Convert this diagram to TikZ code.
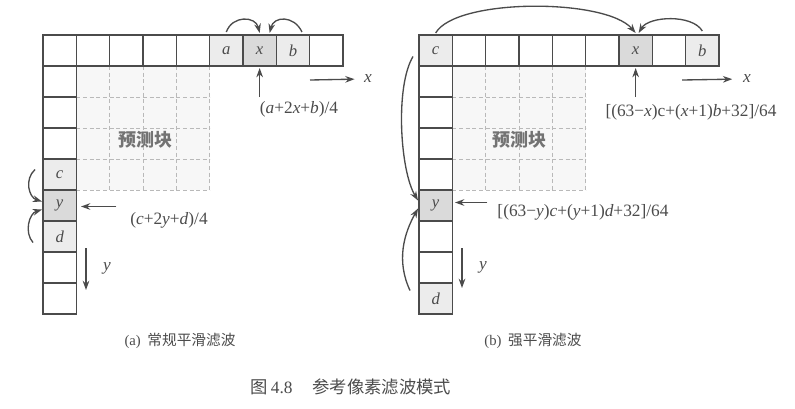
\documentclass[tikz,border=0pt]{standalone}
\usepackage{fontspec}
\setmainfont{Liberation Serif}
\newfontfamily\cjk{Noto Sans CJK SC}
\usetikzlibrary{arrows.meta, positioning, calc}
\definecolor{cellLight}{RGB}{236,236,236}
\definecolor{cellDark}{RGB}{218,218,218}
\definecolor{gridLine}{RGB}{185,185,185}
\definecolor{inkGray}{RGB}{75,75,75}

\begin{document}
\begin{tikzpicture}[
    x=0.75pt, y=-0.75pt,
    cell/.style={draw=inkGray, line width=1.2pt, minimum width=25pt, minimum height=23.25pt,
                 inner sep=0pt, outer sep=0pt, text=inkGray, font=\itshape\fontsize{12.5}{12}\selectfont},
    lit/.style={cell, fill=cellLight},
    hit/.style={cell, fill=cellDark},
    arr/.style={draw=inkGray, line width=1pt, -{Stealth[length=7pt, width=5pt]}},
    lbl/.style={text=inkGray, inner sep=1pt, font=\fontsize{13}{14}\selectfont},
    captxt/.style={text=inkGray, inner sep=1pt, font=\fontsize{11}{13}\selectfont},
    blk/.style={text=black!55, inner sep=1pt, font=\cjk\bfseries\fontsize{13.5}{14}\selectfont}
  ]
    \useasboundingbox (0,0) rectangle (795,408);

    \newcommand{\refgrid}[2]{%
      % prediction block
      \fill[black!3] (#2+33.33,66) rectangle (#2+166.67,190);
      \foreach \k in {1,...,4} {
        \draw[gridLine, densely dashed] (#2+33.33+33.33*\k,66) -- (#2+33.33+33.33*\k,190);
        \draw[gridLine, densely dashed] (#2+33.33,66+31*\k) -- (#2+166.67,66+31*\k);
      }
      % reference row and column
      \foreach \i in {0,...,8}
        \node[cell] (#1t\i) at (#2+16.67+33.33*\i,50.5) {};
      \foreach \j in {1,...,8}
        \node[cell] (#1l\j) at (#2+16.67,50.5+31*\j) {};
    }

    \refgrid{a}{43}
    \refgrid{b}{419}

    % (a) regular smoothing
    \node[lit] (ca) at (at5) {a};
    \node[hit] (cx) at (at6) {x};
    \node[lit] (cb) at (at7) {b};
    \node[lit] (cc) at (al4) {c};
    \node[hit] (cy) at (al5) {y};
    \node[lit] (cd) at (al6) {d};
    \node[blk] (pa) at (145,140) {预测块};

    \draw[arr] ($(ca.north)+(0,-3)$) .. controls +(6,-17) and +(-4,-17) .. ($(cx.north)+(0,-2)$);
    \draw[arr] ($(cb.north)+(9,-3)$) .. controls +(-8,-17) and +(4,-17) .. ($(cx.north)+(10,-2)$);
    \node[lbl] (fa) at (299,109) {(\textit{a}+2\textit{x}+\textit{b})/4};
    \coordinate (xa0) at ($(cx.south)+(0,31)$);
    \draw[arr, shorten >=1.5pt] (xa0) -- (cx.south);
    \coordinate (ra0) at (310,80);
    \node[lbl] (xa) at (368,79) {\textit{x}};
    \draw[arr, shorten >=6pt] (ra0) -- (xa.west);

    \draw[arr] ($(cc.west)+(-8,-5)$) .. controls +(-11,10) and +(-13,-4) .. ($(cy.west)+(-1,-4)$);
    \draw[arr] ($(cd.west)+(-10,6)$) .. controls +(-9,-10) and +(-13,4) .. ($(cy.west)+(-1,4)$);
    \node[lbl] (fy) at (169,220) {(\textit{c}+2\textit{y}+\textit{d})/4};
    \coordinate (ya0) at ($(cy.east)+(40,1)$);
    \draw[arr, shorten >=3.5pt] (ya0) -- (ya0 -| cy.east);
    \coordinate (da0) at (86,248);
    \coordinate (da1) at (86,290);
    \draw[arr] (da0) -- (da1);
    \node[lbl] (ya) at (107,268) {\textit{y}};

    % (b) strong smoothing
    \node[lit] (bc) at (bt0) {c};
    \node[hit] (bx) at (bt6) {x};
    \node[lit] (bb) at (bt8) {b};
    \node[hit] (by) at (bl5) {y};
    \node[lit] (bd) at (bl8) {d};
    \node[blk] (pb) at (519,140) {预测块};

    \draw[arr] ($(bc.north)+(0,-2)$) .. controls +(20,-35) and +(-30,-35) .. ($(bx.north)+(0,-2)$);
    \draw[arr] ($(bb.north)+(0,-4)$) .. controls +(-10,-17) and +(10,-17) .. ($(bx.north)+(3,-2)$);
    \node[lbl] (fbx) at (691,112) {[(63−\textit{x})c+(\textit{x}+1)\textit{b}+32]/64};
    \coordinate (xb0) at ($(bx.south)+(0,31)$);
    \draw[arr, shorten >=1.5pt] (xb0) -- (bx.south);
    \coordinate (rb0) at (682,80);
    \node[lbl] (xb) at (747,79) {\textit{x}};
    \draw[arr, shorten >=7pt] (rb0) -- (xb.west);

    \draw[arr] ($(bc.west)+(-6,6)$) .. controls +(-18,30) and +(-18,-30) .. ($(by.west)+(-1,-5)$);
    \draw[arr] ($(bd.west)+(-9,-8)$) .. controls +(-14,-30) and +(-14,25) .. ($(by.west)+(-1,3)$);
    \node[lbl] (fby) at (583,212) {[(63−\textit{y})\textit{c}+(\textit{y}+1)\textit{d}+32]/64};
    \coordinate (yb0) at ($(by.east)+(35,-3)$);
    \draw[arr, shorten >=2pt] (yb0) -- (yb0 -| by.east);
    \coordinate (db0) at (462,248);
    \coordinate (db1) at (462,288);
    \draw[arr] (db0) -- (db1);
    \node[lbl] (yb) at (483,267) {\textit{y}};

    % captions
    \node[captxt] (capa) at (180,341) {(a)\hspace{5pt}{\cjk 常规平滑滤波}};
    \node[captxt] (capb) at (533,341) {(b)\hspace{5pt}{\cjk 强平滑滤波}};
    \node[captxt, font=\fontsize{13}{14}\selectfont] (fig) at (351,387) {{\cjk 图}\,4.8\hspace{15pt}{\cjk 参考像素滤波模式}};
\end{tikzpicture}
\end{document}
